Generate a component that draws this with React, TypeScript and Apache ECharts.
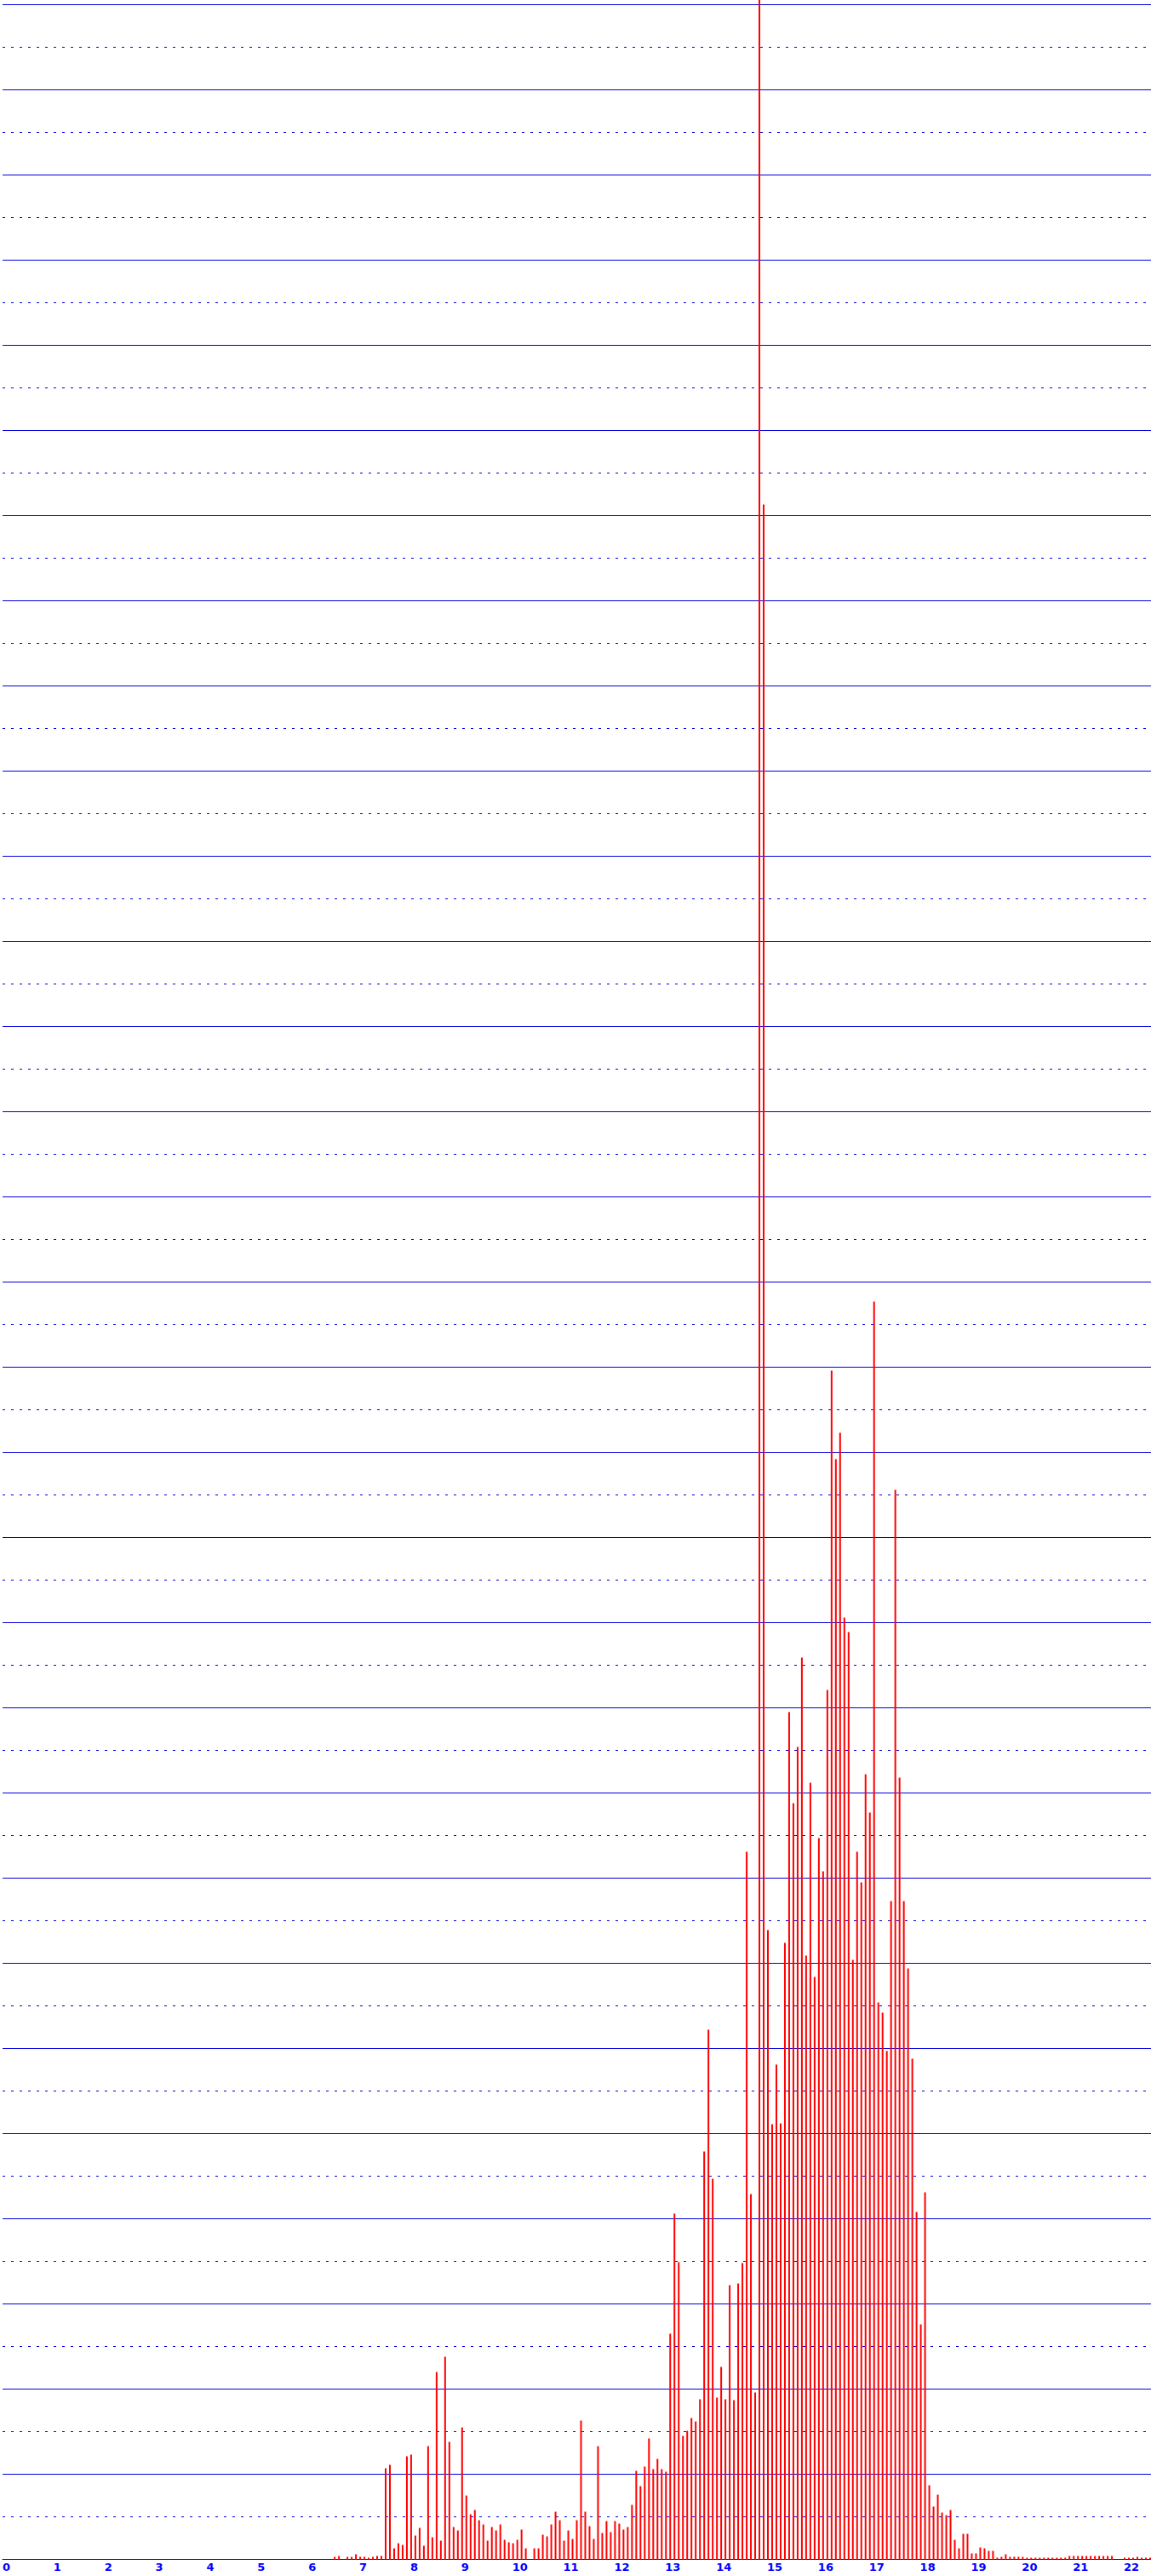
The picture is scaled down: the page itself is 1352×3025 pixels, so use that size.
import React, { useEffect, useRef } from "react";
import * as echarts from "echarts";

// Histogram of ages, one bin per month (12 bins per year). Heights.
const FIRST_MONTH = 72; // age 6 years 0 months
const age6 = [0, 0, 0, 0, 0, 0, 3, 4, 0, 3, 3, 6];
const age7 = [3, 3, 2, 3, 4, 4, 107, 111, 13, 19, 17, 121];
const age8 = [123, 28, 37, 16, 133, 26, 220, 22, 238, 138, 38, 34];
const age9 = [155, 75, 53, 58, 46, 41, 22, 38, 34, 41, 23, 20];
const age10 = [19, 23, 35, 13, 0, 13, 13, 29, 27, 41, 56, 46];
const age11 = [22, 34, 24, 46, 163, 56, 39, 24, 133, 31, 45, 32];
const age12 = [45, 42, 35, 38, 64, 104, 86, 109, 142, 106, 118, 106];
const age13 = [103, 265, 406, 349, 145, 151, 166, 162, 188, 479, 622, 447];
const age14 = [190, 226, 188, 322, 187, 324, 348, 831, 429, 196, 3010, 2413];
const age15 = [739, 511, 581, 512, 724, 995, 888, 954, 1059, 709, 912, 684];
const age16 = [847, 808, 1021, 1396, 1292, 1323, 1106, 1089, 704, 831, 795, 922];
const age17 = [877, 1477, 654, 642, 597, 773, 1256, 918, 773, 694, 588, 408];
const age18 = [276, 431, 87, 62, 76, 55, 52, 58, 23, 13, 30, 30];
const age19 = [7, 7, 14, 13, 10, 10, 2, 3, 6, 3, 3, 3];
const age20 = [3, 2, 2, 2, 2, 2, 2, 2, 2, 2, 2, 4];
const age21 = [4, 4, 4, 4, 4, 4, 4, 4, 4, 4, 0, 0];
const age22 = [2, 2, 2, 3, 2, 2, 2];

const xTickLabels = [
  "0", "1", "2", "3", "4", "5", "6", "7", "8", "9", "10", "11",
  "12", "13", "14", "15", "16", "17", "18", "19", "20", "21", "22",
];

const counts = [
  ...age6, ...age7, ...age8, ...age9, ...age10, ...age11, ...age12, ...age13,
  ...age14, ...age15, ...age16, ...age17, ...age18, ...age19, ...age20, ...age21, ...age22,
];

const BLUE = "#0000dd";
const LABEL_BLUE = "#0000ff";

export default function App() {
  const ref = useRef<HTMLDivElement>(null);

  useEffect(() => {
    if (!ref.current) return;
    const chart = echarts.init(ref.current, null, { renderer: "svg" });
    const data = counts
      .map((c, i) => [(FIRST_MONTH + i) / 12 + 1 / 60, c])
      .filter((d) => d[1] > 0);

    chart.setOption({
      animation: false,
      backgroundColor: "#ffffff",
      grid: { left: 0, right: 0, top: 5.5, bottom: 19.5, containLabel: false },
      xAxis: {
        type: "value",
        min: 0,
        max: 1352 / 60,
        interval: 1,
        axisLine: { show: true, lineStyle: { color: BLUE, width: 1 } },
        axisTick: { show: false },
        splitLine: { show: false },
        axisLabel: {
          show: true,
          align: "left",
          margin: 2,
          color: LABEL_BLUE,
          fontSize: 13,
          fontWeight: "bold",
          fontFamily: "DejaVu Sans",
          showMaxLabel: false,
          formatter: (v: number) => {
            const r = Math.round(v);
            return Math.abs(v - r) < 1e-6 && xTickLabels[r] !== undefined ? xTickLabels[r] : "";
          },
        },
      },
      yAxis: [
        {
          type: "value",
          min: 0,
          max: 3000,
          interval: 100,
          axisLabel: { show: false },
          axisLine: { show: false },
          axisTick: { show: false },
          splitLine: { show: true, lineStyle: { color: BLUE, width: 1, type: "solid" } },
        },
        {
          type: "value",
          min: 0,
          max: 3000,
          interval: 50,
          axisLabel: { show: false },
          axisLine: { show: false },
          axisTick: { show: false },
          splitLine: { show: true, lineStyle: { color: BLUE, width: 1, type: [3, 7] } },
        },
      ],
      series: [
        {
          type: "bar",
          yAxisIndex: 0,
          data,
          barWidth: 2,
          clip: false,
          itemStyle: { color: "#ff0000" },
          z: 5,
        },
      ],
    });
    return () => chart.dispose();
  }, []);

  return (
    <div
      ref={ref}
      style={{ position: "absolute", left: 0, top: 0, width: 1352, height: 3025 }}
    />
  );
}
